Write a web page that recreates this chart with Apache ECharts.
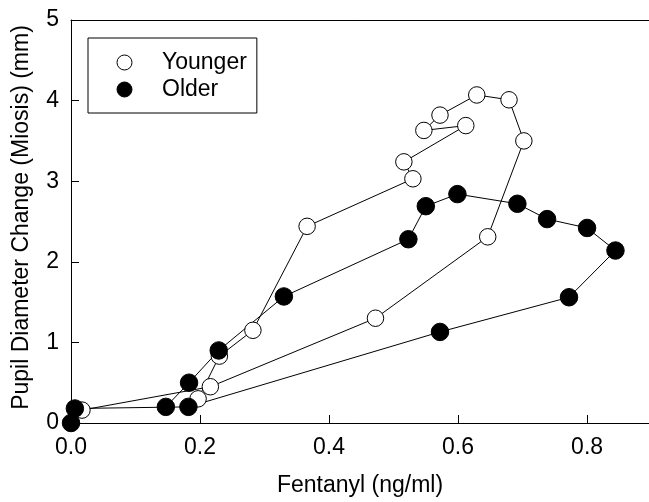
<!DOCTYPE html>
<html>
<head>
<meta charset="utf-8">
<script src="https://cdn.jsdelivr.net/npm/echarts@6/dist/echarts.min.js"></script>
<style>
html,body{margin:0;padding:0;background:#fff;}
#chart{width:649px;height:502px;}
</style>
</head>
<body>
<div id="chart"></div>
<script>
// Data (connected in time order)
const youngerX = [0.017, 0.216, 0.472, 0.646, 0.702, 0.679, 0.629, 0.572, 0.547, 0.612, 0.516, 0.530, 0.366, 0.282, 0.230, 0.197];
const youngerY = [0.16, 0.45, 1.30, 2.31, 3.50, 4.01, 4.07, 3.82, 3.63, 3.69, 3.24, 3.03, 2.44, 1.15, 0.83, 0.30];
const olderX = [0.000, 0.006, 0.182, 0.572, 0.772, 0.844, 0.800, 0.738, 0.692, 0.599, 0.550, 0.523, 0.330, 0.229, 0.183, 0.147];
const olderY = [0.00, 0.18, 0.20, 1.13, 1.56, 2.14, 2.42, 2.53, 2.72, 2.84, 2.69, 2.28, 1.57, 0.90, 0.50, 0.20];
const xTicks = [0, 0.2, 0.4, 0.6, 0.8];
const seriesNames = ['Younger', 'Older'];
const xTitle = 'Fentanyl (ng/ml)';
const yTitle = 'Pupil Diameter Change (Miosis) (mm)';

const pairs = (xs, ys) => xs.map((x, i) => [x, ys[i]]);
const font = 'Liberation Sans, Arial, sans-serif';
const fs = 23;

const chart = echarts.init(document.getElementById('chart'), null, {renderer: 'canvas'});
chart.setOption({
  animation: false,
  backgroundColor: '#fff',
  textStyle: {fontFamily: font},
  grid: {left: 71, top: 20, right: 0, bottom: 74, containLabel: false},
  legend: {
    orient: 'vertical',
    left: 88, top: 38,
    padding: [13, 10, 12, 28.5],
    itemGap: 4,
    itemWidth: 65, itemHeight: 15,
    borderColor: '#000', borderWidth: 1,
    textStyle: {fontSize: fs, color: '#000', fontFamily: font},
    data: [
      {name: seriesNames[0], icon: 'circle', itemStyle: {color: '#fff', borderColor: '#000', borderWidth: 1}},
      {name: seriesNames[1], icon: 'circle', itemStyle: {color: '#000', borderColor: '#000', borderWidth: 1}}
    ]
  },
  xAxis: [{
    type: 'value', min: 0, max: 0.896,
    position: 'bottom',
    name: xTitle, nameLocation: 'middle', nameGap: 51, nameMoveOverlap: false,
    nameTextStyle: {fontSize: fs, color: '#000', fontFamily: font},
    axisLine: {show: true, lineStyle: {color: '#000', width: 1}},
    axisTick: {show: true, inside: true, length: 8, customValues: xTicks, lineStyle: {color: '#000'}},
    axisLabel: {show: true, customValues: xTicks, margin: 13, fontSize: fs, color: '#000', fontFamily: font,
      formatter: v => v.toFixed(1)},
    splitLine: {show: false}
  }, {
    type: 'value', min: 0, max: 0.896, position: 'top',
    axisLine: {show: true, onZero: false, lineStyle: {color: '#000', width: 1}},
    axisTick: {show: false}, axisLabel: {show: false}, splitLine: {show: false}
  }],
  yAxis: {
    type: 'value', min: 0, max: 5, interval: 1,
    name: yTitle, nameLocation: 'middle', nameGap: 38, nameRotate: 90, nameMoveOverlap: false,
    nameTextStyle: {fontSize: fs, color: '#000', fontFamily: font, padding: [0, 0, 0, 8]},
    axisLine: {show: true, lineStyle: {color: '#000', width: 1}},
    axisTick: {show: true, inside: true, length: 8, lineStyle: {color: '#000'}},
    axisLabel: {margin: 12, fontSize: fs, color: '#000', fontFamily: font},
    splitLine: {show: false}
  },
  series: [{
    name: seriesNames[0], type: 'line', xAxisIndex: 0,
    data: pairs(youngerX, youngerY),
    symbol: 'circle', symbolSize: 16.5, showAllSymbol: true, clip: false,
    lineStyle: {color: '#000', width: 1},
    itemStyle: {color: '#fff', borderColor: '#000', borderWidth: 1}
  }, {
    name: seriesNames[1], type: 'line', xAxisIndex: 0,
    data: pairs(olderX, olderY),
    symbol: 'circle', symbolSize: 17.5, showAllSymbol: true, clip: false,
    lineStyle: {color: '#000', width: 1},
    itemStyle: {color: '#000', borderColor: '#000', borderWidth: 1}
  }]
});
</script>
</body>
</html>
